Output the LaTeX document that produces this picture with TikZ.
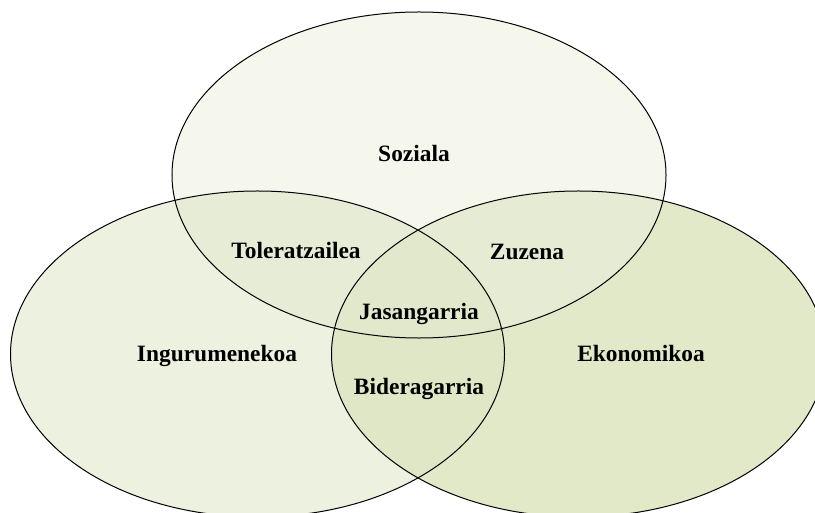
\documentclass[tikz,border=0pt]{standalone}
\usepackage{fontspec}
\setmainfont{Liberation Serif}
\begin{document}
\begin{tikzpicture}[x=1bp,y=-1bp,
  lbl/.style={font=\bfseries\fontsize{23.5}{26}\selectfont, anchor=base, inner sep=0pt},
  rim/.style={draw=black, line width=1bp}]
\definecolor{cTop}{HTML}{F5F6EC}
\definecolor{cLeft}{HTML}{EDF1DF}
\definecolor{cRight}{HTML}{E2E9C8}
\definecolor{cTL}{HTML}{E7ECD6}
\definecolor{cTR}{HTML}{E6ECD4}
\definecolor{cLR}{HTML}{DFE7C7}
\definecolor{cAll}{HTML}{E1E8CC}
% the three circles of sustainability
\def\pTop{(419,175) ellipse [x radius=247bp, y radius=163bp]}
\def\pLeft{(257.5,354) ellipse [x radius=247bp, y radius=163bp]}
\def\pRight{(578.5,354) ellipse [x radius=247bp, y radius=163bp]}
\useasboundingbox (0,0) rectangle (815,513);
\clip (0,0) rectangle (815,513);
% single regions
\fill[cTop] \pTop;
\fill[cLeft] \pLeft;
\fill[cRight] \pRight;
% pairwise overlaps
\begin{scope}
  \clip \pTop; \fill[cTL] \pLeft;
\end{scope}
\begin{scope}
  \clip \pTop; \fill[cTR] \pRight;
\end{scope}
\begin{scope}
  \clip \pLeft; \fill[cLR] \pRight;
\end{scope}
% common core
\begin{scope}
  \clip \pTop; \clip \pLeft; \fill[cAll] \pRight;
\end{scope}
% outlines
\draw[rim] \pTop;
\draw[rim] \pLeft;
\draw[rim] \pRight;
% labels
\node[lbl] (soz) at (414,162) {Soziala};
\node[lbl] (tol) at (296,259) {Toleratzailea};
\node[lbl] (zuz) at (527,260) {Zuzena};
\node[lbl] (jas) at (419,320) {Jasangarria};
\node[lbl] (ing) at (217,361) {Ingurumenekoa};
\node[lbl] (eko) at (641,361) {Ekonomikoa};
\node[lbl] (bid) at (419,394) {Bideragarria};
\end{tikzpicture}
\end{document}
